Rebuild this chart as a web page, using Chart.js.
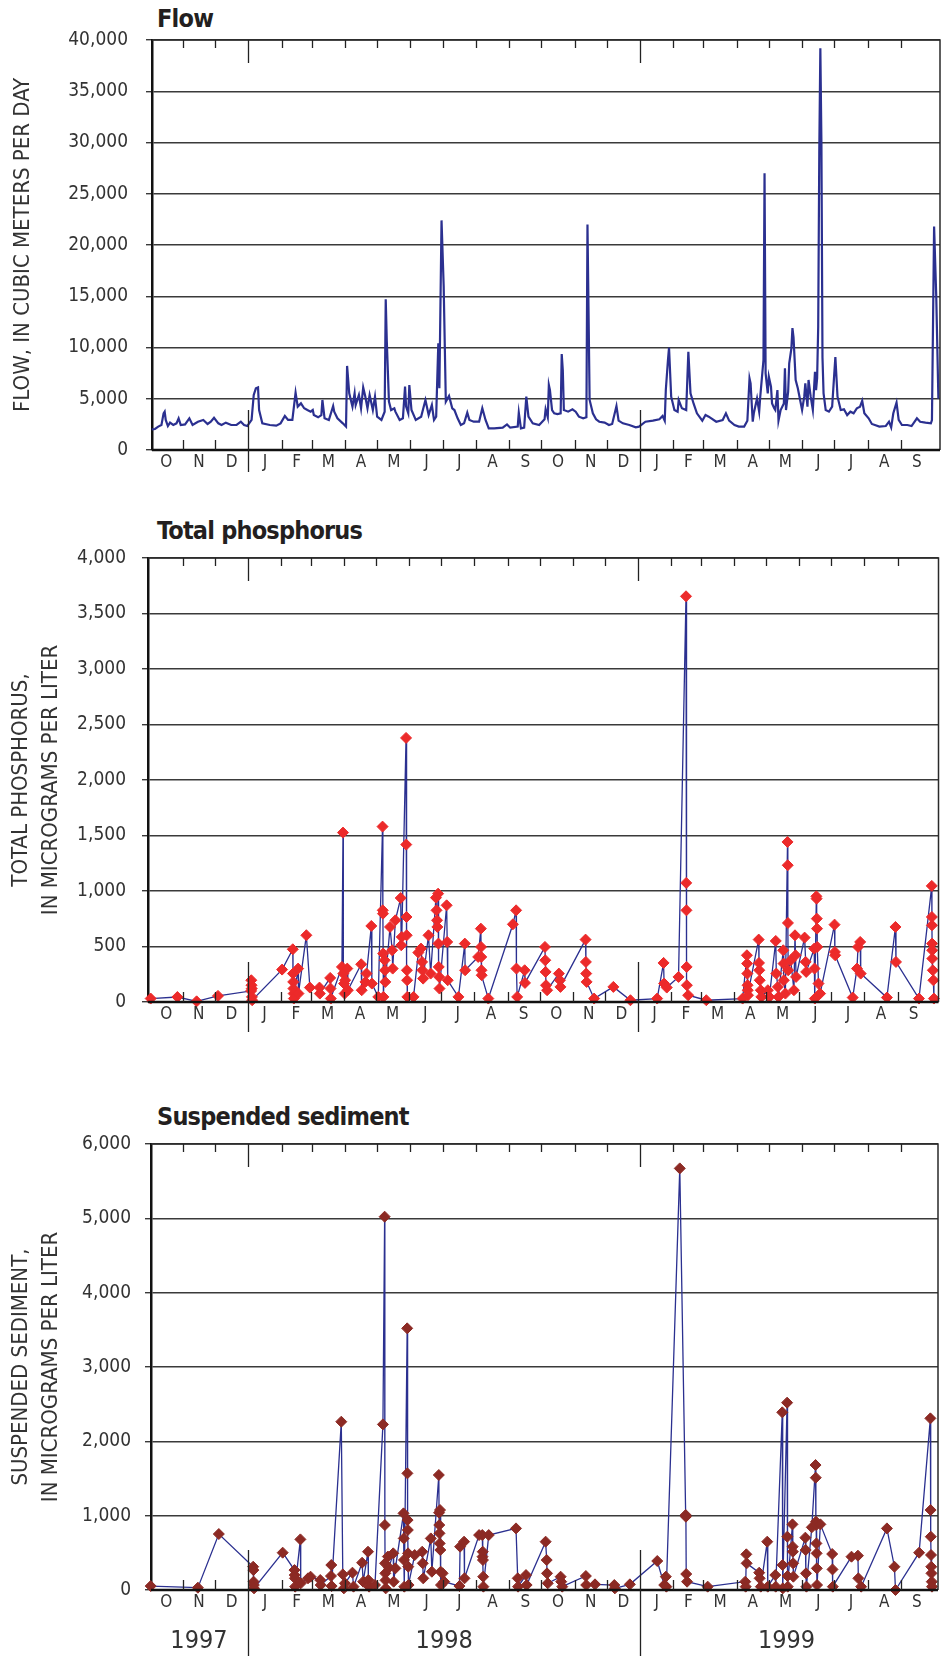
<!DOCTYPE html>
<html>
<head>
<meta charset="utf-8">
<script src="https://cdn.jsdelivr.net/npm/chart.js@4.4.1/dist/chart.umd.min.js"></script>
<style>
  html, body { margin: 0; padding: 0; background: #fff; }
  body { width: 945px; height: 1656px; position: relative; overflow: hidden; }
  .panel { position: absolute; left: 0; }
  .ptitle {
    position: absolute; left: 157px; white-space: nowrap;
    font-family: "Liberation Sans Narrow", "DejaVu Sans Condensed", "Liberation Sans", sans-serif;
    font-weight: bold; font-size: 25px; line-height: 26px; letter-spacing: -0.8px; color: #231f20;
  }
</style>
</head>
<body>
<div class="ptitle" style="top:6px">Flow</div>
<div class="ptitle" style="top:518px">Total phosphorus</div>
<div class="ptitle" style="top:1104px">Suspended sediment</div>

<div class="panel" style="top:0px"><canvas id="flowChart" width="945" height="490"></canvas></div>
<div class="panel" style="top:500px"><canvas id="phosChart" width="945" height="550"></canvas></div>
<div class="panel" style="top:1100px"><canvas id="sedChart" width="945" height="556"></canvas></div>

<script>
// x values are days since 1 October 1997

const monthLabels = ["O","N","D","J","F","M","A","M","J","J","A","S",
                     "O","N","D","J","F","M","A","M","J","J","A","S"];
const yearLabels = ["1997", "1998", "1999"];

// daily flow, cubic meters per day
const flowDays = [2,5,8,11,13,14,15,17,19,22,25,27,29,33,37,40,45,50,54,57,60,64,67,71,76,81,85,88,91,95,
  97,99,101,102,105,112,118,122,126,129,133,136,138,141,144,147,150,152,153,157,160,161,163,167,171,172,175,180,183,
  184,186,189,191,192,195,197,199,201,203,205,208,210,212,216,219,220,221,223,225,228,229,233,236,238,239,241,242,244,
  248,253,257,260,263,265,267,269,270,272,274,276,279,282,284,287,290,293,296,298,302,307,310,313,316,321,329,333,336,
  343,344,346,349,351,353,357,363,368,369,371,372,373,375,377,380,383,384,385,386,390,394,397,400,404,407,408,410,413,
  416,419,424,428,431,435,437,441,447,453,456,462,469,475,478,480,481,483,484,486,489,492,493,496,500,502,504,507,510,
  515,518,521,528,534,537,540,545,549,554,557,559,560,562,563,566,568,569,572,573,574,576,577,579,580,582,583,585,586,
  588,591,592,593,595,596,598,599,600,602,604,608,610,611,613,614,616,618,620,621,622,623,624,625,626,627,628,630,633,
  636,638,639,641,644,647,650,653,656,659,662,664,666,670,673,680,686,689,691,693,696,698,701,706,710,715,718,723,728,
  729,731,733,735];
const flowValues = [2020,2050,2280,2440,3580,3740,2930,2340,2670,2440,2600,3090,2440,2500,3090,2440,2760,2930,2540,2760,
  3150,2600,2440,2670,2440,2440,2760,2440,2340,2930,
  5370,6020,6110,3900,2600,2440,2370,2600,3320,2930,2930,5590,4230,4550,4070,3900,3740,3900,3410,3190,3410,4880,3090,
  2930,4290,3740,3090,2600,2280,
  8200,5530,4230,5530,4390,5370,4070,6110,5200,4070,5370,3900,5200,3250,2930,3740,14700,10600,4720,3900,4070,3740,2930,
  3090,6180,4230,3580,6340,3900,
  2930,3250,4880,3410,4390,2930,3250,10400,6020,22400,16000,4720,5270,4070,3900,3090,2440,2600,3640,2930,2760,2760,
  4070,2930,2110,2110,2180,2500,2180,
  2280,3640,2110,2180,5200,3250,2600,2440,2990,3970,3190,6340,5850,3900,3580,3510,3580,9370,7800,3900,3740,3970,3740,
  3250,3090,3190,22000,4880,3580,
  2990,2760,2670,2440,2540,4290,2860,2600,2440,2210,2280,2760,2860,2990,3320,2860,5850,8780,9980,5200,3900,3740,4880,
  4070,3900,9590,5530,4490,3580,
  2860,3410,3250,2760,2930,3580,2860,2440,2280,2280,2860,6990,6500,2760,3580,5040,3740,5200,8780,27000,7480,5530,7150,
  6180,4550,4070,3900,5850,2860,
  3900,4550,7970,3900,5690,8460,9900,11900,11000,6830,6020,3900,5200,6500,4230,6830,5200,3900,7640,5850,7000,12000,
  29000,39200,30000,9000,5530,3900,3740,
  4230,7480,9070,5200,3900,3970,3410,3740,3580,4070,4230,4810,3580,3090,2540,2280,2340,2760,2210,3580,4620,2930,2440,
  2440,2340,3090,2760,2670,2600,
  2930,21800,15000,5000];

// total phosphorus, micrograms per liter
const phosDays = [1,26,44,64,95,95.2,95.4,95.6,95.8,96,124,134,134.2,134.4,134.6,134.8,135,139,139.3,146.7,150,159,159.3,
  169,169.3,169.6,180,181,181.3,182,182.5,183,185,185.5,198,198.5,202,203,207.5,208,214,218,218.2,218.4,218.6,218.8,
  220,220.3,220.6,225,227,227.5,230,235,235.5,236,240,240.2,240.4,240.6,240.8,241,241.2,247,251.5,254,255,255.3,256,
  261,263,268,268.5,269,269.3,270,270.3,270.6,271,271.3,278,278.5,279,289,295,295.3,307.5,310,310.2,310.4,310.6,310.8,
  317,340,343,343.3,344,351,351.3,370,370.3,370.6,371,372,383,384,384.5,408,408.3,408.6,409,416,434,450,475,481,481.5,
  484,495,502,502.2,502.4,502.6,502.8,504,521,555,559,559.2,559.4,559.6,559.8,560,570,570.3,570.6,571,572,572.5,578.6,
  580,586,586.5,588,588.5,593,593.3,593.6,595,597,597.2,597.4,597.6,600,603,604,604.5,605,613,614,614.5,622,622.3,
  622.6,624,624.2,624.4,624.6,624.8,626,627.5,641,641.3,641.6,658,662,663,665,665.5,690,698,698.5,720,732,732.1,732.2,
  732.3,732.4,732.5,733,733.5,734];
const phosValues = [31,45,6,55,100,196,151,121,46,16,292,475,256,181,121,76,31,301,76,601,130,130,76,
  217,121,31,316,1526,256,166,76,196,301,106,340,106,181,256,685,166,46,1580,826,796,436,46,
  376,286,181,676,466,301,736,937,511,586,2379,1418,766,601,286,196,46,46,445,481,361,286,211,
  601,256,940,826,736,676,976,526,316,226,121,871,541,196,46,526,286,406,661,496,406,286,241,
  31,700,826,301,46,286,172,496,376,271,151,106,256,196,136,562,361,256,181,31,136,16,31,352,166,
  130,226,3655,1073,826,316,151,61,16,31,421,346,256,151,106,61,562,352,286,196,106,46,106,
  46,550,256,136,46,466,346,196,76,1442,1232,712,286,376,106,601,421,226,580,361,271,481,301,
  31,952,931,751,661,496,166,76,697,451,421,40,301,496,541,256,40,676,361,31,1046,766,691,
  526,466,391,286,196,31];

// suspended sediment, micrograms per liter
const sedDays = [1,45,64.5,96.5,96.7,96.9,97.1,97.3,124,135,135.2,135.4,135.6,140.5,140.8,147.6,150,159,159.4,169,169.3,
  169.6,178.6,180,181,182,189,190,198,199,203.5,203.8,204.5,210,217.4,219,219.2,219.4,219.6,219.8,220,222,223,227,
  227.4,229,236.6,236.8,237,237.3,240,240.2,240.4,240.6,240.8,241,241.3,247,254,254.5,255,262,263,269.5,269.7,269.9,
  270.1,270.3,270.6,270.9,271.2,271.5,273,274.5,288.7,289.3,293,293.4,307,310,310.2,310.4,310.6,310.8,311,316,341.4,
  343,343.3,350.7,351.3,369,370,370.3,371,383,383.5,384.5,406.5,406.8,415,433,433.5,447.5,473,479.5,481,481.5,494,
  499.5,499.7,500,500.8,520,555,555.4,556,556.3,568,568.4,569.5,575.5,576,583,583.4,589.5,589.8,590,594,594.2,594.4,
  594.6,599,599.2,599.4,599.6,599.8,611,611.3,611.6,612,617,620.5,620.7,620.9,621.1,621.3,621.5,621.7,621.9,625,636,
  636.3,636.6,654,660,660.4,663,687,694,695,717,727.5,727.7,727.9,728.1,728.3,728.5,728.8,729];
const sedValues = [53,31,753,313,268,112,67,22,502,268,201,157,45,681,90,157,179,134,67,188,336,
  53,2264,210,22,90,233,45,367,112,515,134,45,67,2228,5022,874,359,224,130,22,450,300,493,
  112,291,1031,694,404,45,3520,1569,941,807,493,314,67,470,515,359,157,694,246,1547,1040,874,
  762,627,1076,538,246,67,224,112,53,583,650,157,739,739,448,515,403,179,45,739,829,
  157,45,201,67,650,403,224,90,179,112,45,188,67,76,67,22,76,390,67,179,45,5672,
  1009,986,215,112,45,112,45,480,359,233,157,45,650,45,201,45,2390,336,22,2520,717,188,
  45,883,583,515,359,179,704,538,224,45,843,1681,1511,919,874,627,493,291,67,883,484,
  277,45,448,462,157,45,829,313,0,502,2309,1076,717,471,313,224,112,45];

const FONT = '"Liberation Sans Narrow", "DejaVu Sans Condensed", "Liberation Sans", sans-serif';
const LINE_BLUE = "#2b3090";
const DAY0 = Date.UTC(1997, 9, 1);

function dayOf(year, month) {
  return (Date.UTC(year, month, 1) - DAY0) / 86400000;
}

const monthStarts = [];
for (let k = 0; k <= monthLabels.length; k++) monthStarts.push(dayOf(1997, 9 + k));

const axisFrame = {
  id: "axisFrame",
  afterDraw(chart, args, opts) {
    const { ctx, chartArea } = chart;
    const { left, right, top, bottom } = chartArea;
    const x = chart.scales.x;
    ctx.save();

    ctx.strokeStyle = "#2a2a2a";
    ctx.lineWidth = 1.5;
    ctx.beginPath();
    ctx.moveTo(left, top);
    ctx.lineTo(right, top);
    ctx.lineTo(right, bottom);
    ctx.stroke();

    ctx.strokeStyle = "#111";
    ctx.lineWidth = 2.5;
    ctx.beginPath();
    ctx.moveTo(left, bottom);
    ctx.lineTo(right, bottom);
    ctx.stroke();

    // month ticks and year dividers
    ctx.strokeStyle = "#222";
    ctx.lineWidth = 1.3;
    for (let k = 1; k < monthLabels.length; k++) {
      const px = Math.round(x.getPixelForValue(monthStarts[k])) + 0.5;
      ctx.beginPath();
      if (k % 12 === 3) {
        ctx.moveTo(px, top); ctx.lineTo(px, top + 23);
        ctx.moveTo(px, bottom - 40); ctx.lineTo(px, bottom + opts.dividerBelow);
      } else {
        ctx.moveTo(px, top); ctx.lineTo(px, top + 8);
        ctx.moveTo(px, bottom - 10); ctx.lineTo(px, bottom);
      }
      ctx.stroke();
    }

    ctx.fillStyle = "#333";
    ctx.textAlign = "center";
    ctx.textBaseline = "middle";
    ctx.font = "17px " + FONT;
    monthLabels.forEach((lab, k) => {
      const mid = (monthStarts[k] + monthStarts[k + 1]) / 2;
      ctx.fillText(lab, x.getPixelForValue(mid), bottom + 13);
    });

    if (opts.showYears) {
      const bounds = [0, dayOf(1998, 0), dayOf(1999, 0), dayOf(1999, 9)];
      ctx.font = "25px " + FONT;
      yearLabels.forEach((lab, i) => {
        const mid = (bounds[i] + bounds[i + 1]) / 2;
        ctx.fillText(lab, x.getPixelForValue(mid), bottom + 51);
      });
    }
    ctx.restore();
  }
};

function makePanel(canvasId, days, values, cfg) {
  const canvas = document.getElementById(canvasId);
  const ctx = canvas.getContext("2d");
  const points = days.map((d, i) => ({ x: d, y: values[i] }));

  const dataset = {
    data: points,
    borderColor: LINE_BLUE,
    borderWidth: cfg.lineWidth,
    tension: 0,
    clip: false,
    pointRadius: cfg.marker ? 5.5 : 0,
    pointStyle: "rectRot",
    pointBackgroundColor: cfg.marker,
    pointBorderColor: cfg.marker,
    pointBorderWidth: 1
  };

  return new Chart(ctx, {
    type: "line",
    data: { datasets: [dataset] },
    plugins: [axisFrame],
    options: {
      responsive: false,
      animation: false,
      events: [],
      layout: { padding: cfg.padding },
      plugins: {
        legend: { display: false },
        tooltip: { enabled: false },
        axisFrame: { dividerBelow: cfg.dividerBelow, showYears: cfg.showYears }
      },
      scales: {
        x: {
          type: "linear",
          min: cfg.xMin,
          max: cfg.xMax,
          display: false
        },
        y: {
          min: 0,
          max: cfg.yMax,
          ticks: {
            stepSize: cfg.step,
            color: "#333",
            padding: cfg.tickPad,
            font: { family: FONT, size: 19 }
          },
          grid: { color: "#3a3a3a", lineWidth: 1.4, tickLength: 6 },
          border: { color: "#111", width: 2.5 },
          title: {
            display: true,
            text: cfg.title,
            color: "#333",
            font: { family: FONT, size: 22, lineHeight: 1.36 },
            padding: { top: cfg.titlePad, bottom: 0 }
          },
          afterFit(scale) {
            scale.width = cfg.axisWidth;
          }
        }
      }
    }
  });
}

makePanel("flowChart", flowDays, flowValues, {
  title: "FLOW, IN CUBIC METERS PER DAY",
  yMax: 40000, step: 5000, lineWidth: 2.2, marker: null,
  padding: { left: 0, top: 40, right: 5, bottom: 40 },
  axisWidth: 152, tickPad: 18, titlePad: 8, xMin: 2.2, xMax: 736.5,
  dividerBelow: 22, showYears: false
});

makePanel("phosChart", phosDays, phosValues, {
  title: ["TOTAL PHOSPHORUS,", "IN MICROGRAMS PER LITER"],
  yMax: 4000, step: 500, lineWidth: 1.3, marker: "#ec2a2a",
  padding: { left: 0, top: 58, right: 3, bottom: 48 },
  axisWidth: 148, tickPad: 16, titlePad: 6, xMin: -1.5, xMax: 738.3,
  dividerBelow: 30, showYears: false
});

makePanel("sedChart", sedDays, sedValues, {
  title: ["SUSPENDED SEDIMENT,", "IN MICROGRAMS PER LITER"],
  yMax: 6000, step: 1000, lineWidth: 1.3, marker: "#8c2a24",
  padding: { left: 0, top: 44, right: 7, bottom: 66 },
  axisWidth: 151, tickPad: 14, titlePad: 6, xMin: 1.3, xMax: 734.6,
  dividerBelow: 70, showYears: true
});
</script>
</body>
</html>
